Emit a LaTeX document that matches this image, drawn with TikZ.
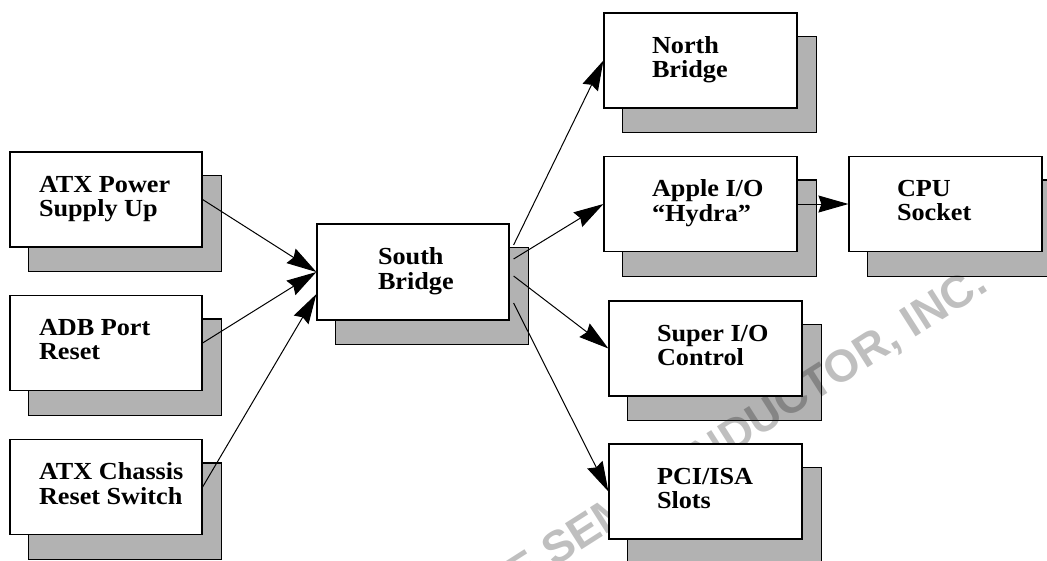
\documentclass[tikz,border=0pt]{standalone}
\usepackage{fontspec}
\setmainfont{Liberation Serif}[FakeStretch=1.07]
\newfontfamily\wmfont{Liberation Sans}
\usetikzlibrary{arrows.meta,backgrounds}
\definecolor{shadowgray}{RGB}{178,178,178}
\newcommand{\bxt}[3]{\makebox[#2][l]{\hspace*{#1}\begin{tabular}{@{}l@{}}#3\end{tabular}}}
\tikzset{
  blk/.style={draw=black, line width=1.2pt, fill=white, inner sep=0pt,
    minimum height=95pt, font=\fontsize{24.5}{24}\selectfont\bfseries},
  shade/.style={fill=shadowgray, draw=black, line width=1.2pt},
  conn/.style={line width=1pt, -{Stealth[length=30pt,width=17pt,inset=3pt]}},
  wmark/.style={font=\wmfont\bfseries\fontsize{45}{45}\selectfont, text=black,
    opacity=0.25, inner sep=0pt}
}
\begin{document}
\begin{tikzpicture}[x=1pt,y=-1pt]
\useasboundingbox (0,0) rectangle (1047,560);
% boxes
\node[blk, minimum width=192pt] (pw)  at (106,199.5) {\bxt{29pt}{192pt}{ATX Power\\Supply Up}};
\node[blk, minimum width=192pt] (adb) at (106,343)   {\bxt{29pt}{192pt}{ADB Port\\Reset}};
\node[blk, minimum width=192pt] (ch)  at (106,487)   {\bxt{29pt}{192pt}{ATX Chassis\\Reset Switch}};
\node[blk, minimum width=192pt, minimum height=96pt] (sb) at (413,272) {\bxt{61pt}{192pt}{South\\Bridge}};
\node[blk, minimum width=193pt] (nb)    at (700.5,60.5) {\bxt{48pt}{193pt}{North\\Bridge}};
\node[blk, minimum width=193pt] (apple) at (700.5,204)  {\bxt{48pt}{193pt}{Apple I/O\\“Hydra”}};
\node[blk, minimum width=193pt] (cpu)   at (945.5,204)  {\bxt{48pt}{193pt}{CPU\\Socket}};
\node[blk, minimum width=193pt] (sup)   at (705.5,348.5) {\bxt{48pt}{193pt}{Super I/O\\Control}};
\node[blk, minimum width=193pt] (pci)   at (705.5,491.5) {\bxt{48pt}{193pt}{PCI/ISA\\Slots}};
% connectors
\draw[conn] (pw.east) -- (sb.west);
\draw[conn] (adb.east) -- (sb.west);
\draw[conn] (ch.east) -- ([shift={(0,22)}]sb.west);
\draw[conn] ([shift={(4,-27)}]sb.east) -- (nb.west);
\draw[conn] ([shift={(4,-13)}]sb.east) -- (apple.west);
\draw[conn] ([shift={(4,4)}]sb.east) -- (sup.west);
\draw[conn] ([shift={(4,31)}]sb.east) -- (pci.west);
\draw[conn] (apple.east) -- (cpu.west);
% shadows and watermark
\begin{scope}[on background layer]
  \clip (0,0) rectangle (1047,560);
  \foreach \n in {pw,adb,ch,sb,nb,apple,cpu,sup,pci}
    \draw[shade] ([shift={(19,24)}]\n.north west) rectangle ([shift={(19,24)}]\n.south east);
  \node[wmark, rotate=32.5, anchor=base east] (wm) at (990,290) {FREESCALE SEMICONDUCTOR, INC.};
\end{scope}
\end{tikzpicture}
\end{document}
